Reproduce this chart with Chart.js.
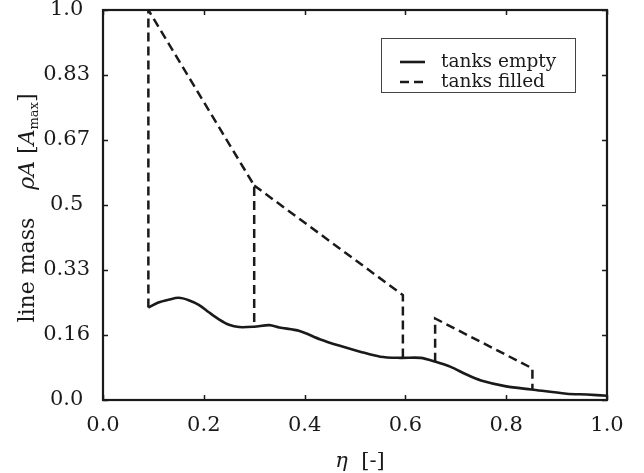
<!DOCTYPE html>
<html>
<head>
<meta charset="utf-8">
<script src="https://cdn.jsdelivr.net/npm/chart.js@4"></script>
<style>
  body { margin: 0; background: #fff; }
  #wrap { width: 644px; height: 473px; }
</style>
</head>
<body>
<div id="wrap"><canvas id="massChart"></canvas></div>
<script>
// values
const etaEmpty = [0.09, 0.11, 0.13, 0.15, 0.17, 0.19, 0.21, 0.23, 0.25, 0.27, 0.30, 0.33, 0.35, 0.39, 0.43, 0.47, 0.51, 0.55, 0.59, 0.63, 0.66, 0.69, 0.72, 0.75, 0.80, 0.85, 0.92, 0.96, 1.0];
const massEmpty = [0.237, 0.25, 0.257, 0.262, 0.256, 0.244, 0.225, 0.207, 0.193, 0.187, 0.188, 0.192, 0.186, 0.177, 0.156, 0.139, 0.124, 0.111, 0.108, 0.108, 0.098, 0.085, 0.066, 0.05, 0.035, 0.027, 0.016, 0.014, 0.011];

// dashed curve, null breaks the line
const etaFilled = [0.09, 0.09, 0.30, 0.30, 0.30, 0.30, 0.595, 0.595, 0.595, 0.659, 0.659, 0.852, 0.852];
const massFilled = [0.237, 1.0, 0.55, 0.188, null, 0.55, 0.269, 0.109, null, 0.098, 0.209, 0.081, 0.028];

const xTickValues = [0, 0.2, 0.4, 0.6, 0.8, 1.0];
const xTickLabels = ['0.0', '0.2', '0.4', '0.6', '0.8', '1.0'];
const yTickValues = [0, 1 / 6, 2 / 6, 3 / 6, 4 / 6, 5 / 6, 1];
const yTickLabels = ['0.0', '0.16', '0.33', '0.5', '0.67', '0.83', '1.0'];

const seriesLabels = ['tanks empty', 'tanks filled'];
const ink = '#1a1a1a';
const serif = '"DejaVu Serif", serif';

function toPoints(xs, ys) {
    return xs.map((x, i) => ({ x: x, y: ys[i] }));
}

// frame, inward ticks, axis titles and the boxed legend
const framePlugin = {
    id: 'frame',
    afterDraw(chart) {
        const ctx = chart.ctx;
        const a = chart.chartArea;
        const xs = chart.scales.x, ys = chart.scales.y;
        const tl = 5;
        ctx.save();
        ctx.strokeStyle = ink;
        ctx.lineWidth = 1.5;
        xs.ticks.forEach(t => {
            const px = Math.round(xs.getPixelForValue(t.value)) + 0.5;
            ctx.beginPath();
            ctx.moveTo(px, a.bottom); ctx.lineTo(px, a.bottom - tl);
            ctx.moveTo(px, a.top); ctx.lineTo(px, a.top + tl);
            ctx.stroke();
        });
        ys.ticks.forEach(t => {
            const py = Math.round(ys.getPixelForValue(t.value)) + 0.5;
            ctx.beginPath();
            ctx.moveTo(a.left, py); ctx.lineTo(a.left + tl, py);
            ctx.moveTo(a.right, py); ctx.lineTo(a.right - tl, py);
            ctx.stroke();
        });
        ctx.lineWidth = 2.2;
        ctx.strokeRect(a.left, a.top, a.right - a.left, a.bottom - a.top);

        // x title: eta [-]
        ctx.fillStyle = ink;
        ctx.textBaseline = 'alphabetic';
        const xParts = [
            { t: 'η', f: 'italic 21px ' + serif },
            { t: '  [-]', f: '21px ' + serif }
        ];
        let w = 0;
        xParts.forEach(p => { ctx.font = p.f; p.w = ctx.measureText(p.t).width; w += p.w; });
        let cx = (a.left + a.right) / 2 + 5 - w / 2;
        xParts.forEach(p => { ctx.font = p.f; ctx.textAlign = 'left'; ctx.fillText(p.t, cx, 467); cx += p.w; });

        // y title: line mass  rho A [A_max]
        const yParts = [
            { t: 'line mass', f: '22px ' + serif },
            { t: '    ', f: '22px ' + serif },
            { t: 'ρA', f: 'italic 22px ' + serif },
            { t: ' [', f: '22px ' + serif },
            { t: 'A', f: 'italic 22px ' + serif },
            { t: 'max', f: '13px ' + serif, dy: 4 },
            { t: ']', f: '22px ' + serif }
        ];
        w = 0;
        yParts.forEach(p => { ctx.font = p.f; p.w = ctx.measureText(p.t).width; w += p.w; });
        ctx.translate(34, (a.top + a.bottom) / 2 + 3);
        ctx.rotate(-Math.PI / 2);
        cx = -w / 2;
        yParts.forEach(p => { ctx.font = p.f; ctx.fillText(p.t, cx, p.dy || 0); cx += p.w; });
        ctx.setTransform(1, 0, 0, 1, 0, 0);

        // legend box
        const lx = a.left + 278, ly = a.top + 28, lw = 194, lh = 54;
        ctx.fillStyle = '#fff';
        ctx.fillRect(lx, ly, lw, lh);
        ctx.strokeStyle = '#444';
        ctx.lineWidth = 1;
        ctx.strokeRect(lx + 0.5, ly + 0.5, lw, lh);
        ctx.font = '18.5px ' + serif;
        ctx.textAlign = 'left';
        ctx.textBaseline = 'middle';
        chart.data.datasets.forEach((ds, i) => {
            const ry = ly + 24 + i * 20;
            ctx.strokeStyle = ds.borderColor;
            ctx.lineWidth = ds.borderWidth;
            ctx.setLineDash(ds.borderDash || []);
            ctx.beginPath();
            ctx.moveTo(lx + 19, ry); ctx.lineTo(lx + 44, ry);
            ctx.stroke();
            ctx.setLineDash([]);
            ctx.fillStyle = ink;
            ctx.fillText(ds.label, lx + 60, ry);
        });
        ctx.restore();
    }
};

new Chart(document.getElementById('massChart'), {
    type: 'scatter',
    data: {
        datasets: [{
            label: seriesLabels[0],
            data: toPoints(etaEmpty, massEmpty),
            showLine: true,
            borderColor: ink,
            borderWidth: 2.6,
            pointRadius: 0,
            tension: 0.3
        }, {
            label: seriesLabels[1],
            data: toPoints(etaFilled, massFilled),
            showLine: true,
            spanGaps: false,
            borderColor: ink,
            borderWidth: 2.5,
            borderDash: [9, 5],
            pointRadius: 0,
            tension: 0
        }]
    },
    options: {
        responsive: true,
        maintainAspectRatio: false,
        animation: false,
        layout: { padding: { top: 10, right: 37, left: 0, bottom: 0 } },
        plugins: {
            legend: { display: false },
            tooltip: { enabled: false }
        },
        scales: {
            x: {
                type: 'linear',
                min: 0,
                max: 1,
                afterBuildTicks: s => { s.ticks = xTickValues.map(v => ({ value: v })); },
                afterFit: s => { s.height = 73; s.paddingLeft = 0; s.paddingRight = 0; },
                grid: { display: false, drawTicks: false },
                border: { display: false },
                ticks: {
                    padding: 13,
                    color: ink,
                    font: { family: serif, size: 21 },
                    maxRotation: 0,
                    callback: (v, i) => xTickLabels[i]
                }
            },
            y: {
                min: 0,
                max: 1,
                afterBuildTicks: s => { s.ticks = yTickValues.map(v => ({ value: v })); },
                afterFit: s => { s.width = 103; s.paddingTop = 0; s.paddingBottom = 0; },
                grid: { display: false, drawTicks: false },
                border: { display: false },
                ticks: {
                    padding: 13,
                    crossAlign: 'center',
                    color: ink,
                    font: { family: serif, size: 21 },
                    callback: (v, i) => yTickLabels[i]
                }
            }
        }
    },
    plugins: [framePlugin]
});
</script>
</body>
</html>
